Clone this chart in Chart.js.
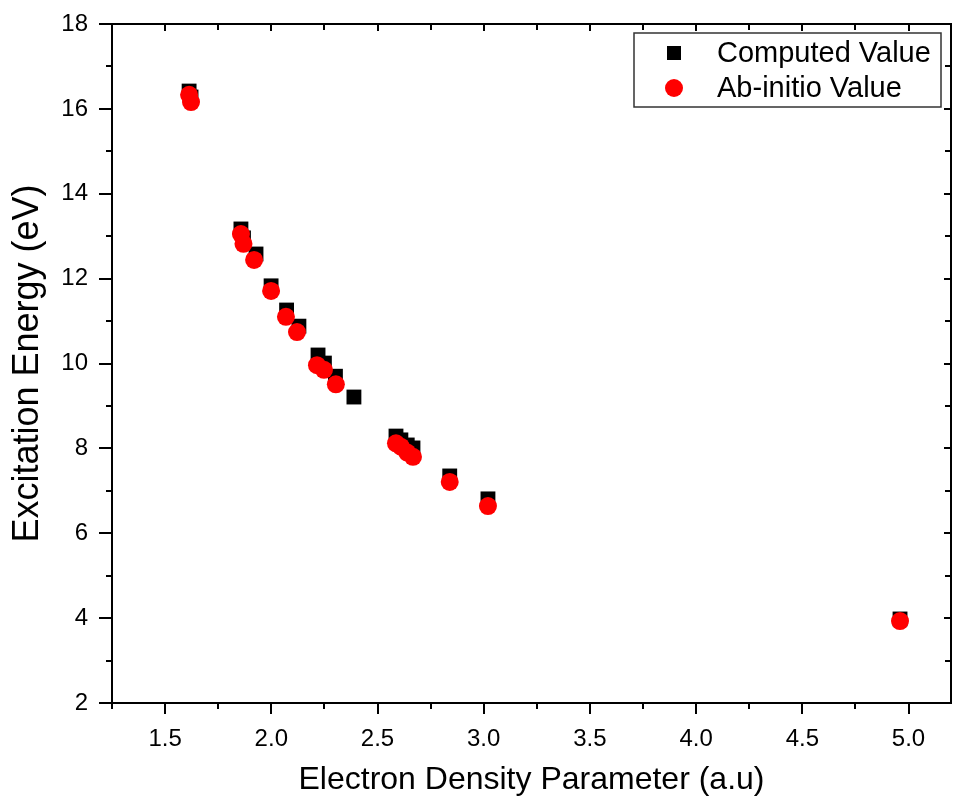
<!DOCTYPE html>
<html>
<head>
<meta charset="utf-8">
<script src="https://cdn.jsdelivr.net/npm/chart.js@4.4.1/dist/chart.umd.min.js"></script>
<style>
  html, body { margin: 0; padding: 0; background: #fff; overflow: hidden; }
  #wrap { width: 954px; height: 808px; position: relative; }
</style>
</head>
<body>
<div id="wrap"><canvas id="excChart"></canvas></div>
<script>
// values
const computedX = [1.613, 1.622, 1.857, 1.869, 1.928, 1.999, 2.072, 2.130, 2.220, 2.250, 2.302, 2.389, 2.587, 2.610, 2.640, 2.667, 2.840, 3.020, 4.960];
const computedY = [16.42, 16.28, 13.17, 12.96, 12.58, 11.83, 11.26, 10.88, 10.20, 10.01, 9.70, 9.21, 8.29, 8.20, 8.08, 8.01, 7.35, 6.81, 3.98];
const abInitioX = [1.613, 1.622, 1.857, 1.869, 1.919, 1.999, 2.069, 2.121, 2.215, 2.248, 2.304, 2.587, 2.610, 2.640, 2.667, 2.840, 3.020, 4.960];
const abInitioY = [16.33, 16.16, 13.05, 12.82, 12.44, 11.71, 11.10, 10.74, 9.96, 9.85, 9.51, 8.12, 8.04, 7.90, 7.80, 7.21, 6.64, 3.93];

const xMajorTicks = [1.5, 2.0, 2.5, 3.0, 3.5, 4.0, 4.5, 5.0];
const xMinorTicks = [1.25, 1.75, 2.25, 2.75, 3.25, 3.75, 4.25, 4.75];
const yMajorTicks = [2, 4, 6, 8, 10, 12, 14, 16, 18];
const yMinorTicks = [3, 5, 7, 9, 11, 13, 15, 17];

const FONT = '"Liberation Sans", Arial, sans-serif';

function toPoints(xs, ys){
  return xs.map((x, i) => ({ x, y: ys[i] }));
}

// frame + Origin-style ticks (out on bottom/left, in on top/right)
const framePlugin = {
  id: 'frame',
  afterDatasetsDraw(chart){
    const { ctx, chartArea: a, scales: { x, y } } = chart;
    ctx.save();
    ctx.strokeStyle = '#000';
    ctx.lineWidth = 2;
    ctx.strokeRect(a.left, a.top, a.right - a.left, a.bottom - a.top);

    const major = 11, minor = 6;
    ctx.beginPath();
    xMajorTicks.forEach(v => {
      const px = Math.round(x.getPixelForValue(v));
      ctx.moveTo(px, a.bottom); ctx.lineTo(px, a.bottom + major);
      ctx.moveTo(px, a.top); ctx.lineTo(px, a.top + 7);
    });
    xMinorTicks.forEach(v => {
      const px = Math.round(x.getPixelForValue(v));
      ctx.moveTo(px, a.bottom); ctx.lineTo(px, a.bottom + minor);
      ctx.moveTo(px, a.top); ctx.lineTo(px, a.top + minor);
    });
    yMajorTicks.forEach(v => {
      const py = Math.round(y.getPixelForValue(v));
      ctx.moveTo(a.left, py); ctx.lineTo(a.left - major - 2, py);
      ctx.moveTo(a.right, py); ctx.lineTo(a.right - 7, py);
    });
    yMinorTicks.forEach(v => {
      const py = Math.round(y.getPixelForValue(v));
      ctx.moveTo(a.left, py); ctx.lineTo(a.left - minor, py);
      ctx.moveTo(a.right, py); ctx.lineTo(a.right - minor, py);
    });
    ctx.stroke();
    ctx.restore();
  }
};

// boxed legend inside the plot, top right
const legendPlugin = {
  id: 'boxLegend',
  afterDraw(chart){
    const { ctx } = chart;
    const box = { left: 634, top: 33, width: 307, height: 74 };
    ctx.save();
    ctx.fillStyle = '#fff';
    ctx.fillRect(box.left, box.top, box.width, box.height);
    ctx.strokeStyle = '#333';
    ctx.lineWidth = 1.5;
    ctx.strokeRect(box.left, box.top, box.width, box.height);

    ctx.font = '29px ' + FONT;
    ctx.textBaseline = 'middle';
    ctx.textAlign = 'left';
    const rows = [chart.data.datasets[0], chart.data.datasets[1]];
    rows.forEach((ds, i) => {
      const cy = box.top + 20 + i * 35;
      const cx = 674;
      ctx.fillStyle = ds.backgroundColor;
      if (ds.pointStyle === 'rect') {
        ctx.fillRect(cx - 7, cy - 7, 14, 14);
      } else {
        ctx.beginPath();
        ctx.arc(cx, cy, 9, 0, Math.PI * 2);
        ctx.fill();
      }
      ctx.fillStyle = '#000';
      ctx.fillText(ds.label, 717, cy + 1);
    });
    ctx.restore();
  }
};

const cfg = {
  type: 'scatter',
  data: {
    datasets: [
      {
        label: 'Computed Value',
        data: toPoints(computedX, computedY),
        pointStyle: 'rect',
        pointRadius: 10.5,
        pointHoverRadius: 10.5,
        backgroundColor: '#000',
        borderWidth: 0,
        order: 2
      },
      {
        label: 'Ab-initio Value',
        data: toPoints(abInitioX, abInitioY),
        pointStyle: 'circle',
        pointRadius: 9,
        pointHoverRadius: 9,
        backgroundColor: '#ff0000',
        borderWidth: 0,
        order: 1
      }
    ]
  },
  options: {
    responsive: true,
    maintainAspectRatio: false,
    animation: false,
    events: [],
    layout: { autoPadding: false, padding: { top: 24, right: 3, left: 0, bottom: 0 } },
    plugins: {
      legend: { display: false },
      tooltip: { enabled: false }
    },
    scales: {
      x: {
        type: 'linear',
        min: 1.25,
        max: 5.2,
        afterFit: s => { s.height = 105; s.paddingLeft = 0; s.paddingRight = 0; },
        afterBuildTicks: s => { s.ticks = xMajorTicks.map(v => ({ value: v })); },
        grid: { display: false, drawTicks: false },
        border: { display: false },
        ticks: {
          padding: 22,
          color: '#000',
          font: { family: FONT, size: 24 },
          maxRotation: 0,
          callback: v => v.toFixed(1)
        },
        title: {
          display: true,
          text: 'Electron Density Parameter (a.u)',
          color: '#000',
          font: { family: FONT, size: 32 },
          padding: { top: 0, bottom: 9 }
        }
      },
      y: {
        type: 'linear',
        min: 2,
        max: 18,
        afterFit: s => { s.width = 112; s.paddingTop = 0; s.paddingBottom = 0; },
        afterBuildTicks: s => { s.ticks = yMajorTicks.map(v => ({ value: v })); },
        grid: { display: false, drawTicks: false },
        border: { display: false },
        ticks: {
          padding: 24,
          color: '#000',
          font: { family: FONT, size: 24 },
          callback: v => String(v)
        },
        title: {
          display: true,
          text: 'Excitation Energy (eV)',
          color: '#000',
          font: { family: FONT, size: 36 },
          padding: { top: 6, bottom: 0 }
        }
      }
    }
  },
  plugins: [framePlugin, legendPlugin]
};

new Chart(document.getElementById('excChart').getContext('2d'), cfg);
</script>
</body>
</html>
